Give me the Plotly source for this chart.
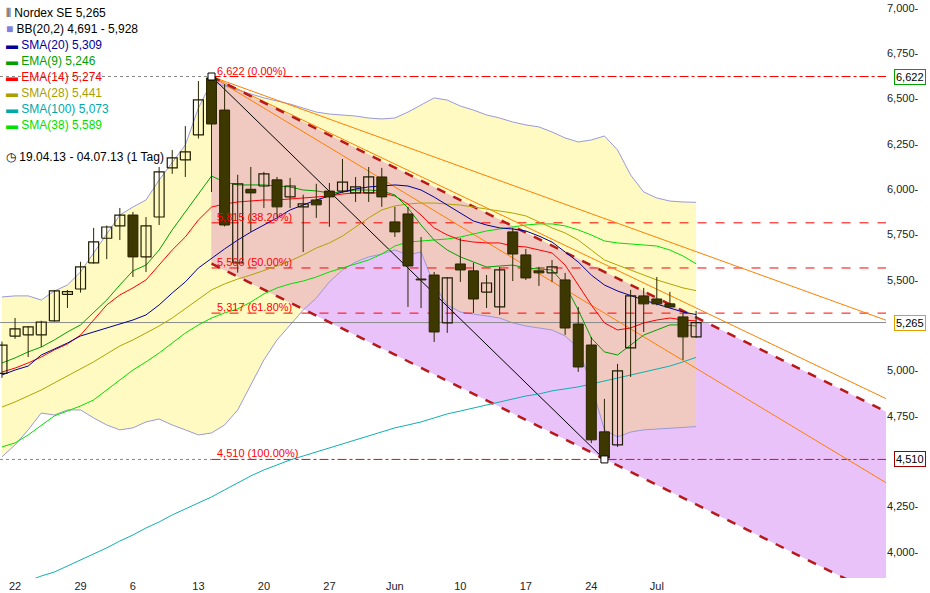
import plotly.graph_objects as go

# ---- data ----
idx = list(range(54))
opens  = [4985,5190,5197,5197,5274,5420,5450,5594,5730,5798,5858,5627,5847,6118,6162,6300,6614,6437,5594,6000,
          6018,6052,5958,5903,5941,5990,5990,5980,5980,6068,5820,5864,5505,5527,5263,5588,5550,5433,5351,5765,
          5638,5550,5539,5500,5257,5141,4662,4590,5125,5412,5395,5368,5296,5186]
highs  = [5160,5290,5245,5275,5445,5445,5600,5787,5800,5897,5875,5847,6123,6217,6349,6597,6622,6580,6080,6123,
          6096,6068,6063,5970,6030,6035,6167,6068,6123,6118,5903,5903,5737,5544,5516,5731,5594,5527,5572,5787,
          5671,5572,5610,5539,5351,5185,4844,5037,5445,5456,5516,5434,5318,5329]
lows   = [4960,5175,5075,5130,5270,5345,5430,5590,5615,5720,5516,5544,5803,6085,6068,6280,5985,5795,5540,5765,
          5897,5847,5897,5654,5842,5793,5980,5930,5930,5903,5737,5351,5345,5158,5208,5489,5318,5345,5307,5494,
          5500,5467,5489,5197,4993,4600,4510,4579,4965,5213,5360,5345,5059,5180]
closes = [5140,5230,5241,5268,5440,5435,5572,5710,5792,5858,5627,5798,6096,6173,6206,6493,6360,5803,6030,5980,
          6085,5903,6018,5920,5914,5958,6040,6013,6068,5958,5765,5577,5500,5213,5511,5555,5395,5483,5555,5643,
          5511,5539,5572,5235,5020,4618,4518,4998,5412,5368,5368,5351,5186,5265]

bb_upper = [5406,5412,5412,5389,5439,5472,5544,5649,5759,5858,5902,5941,6051,6151,6244,6448,6592,6570,6548,6526,
            6504,6487,6470,6448,6426,6415,6410,6404,6393,6388,6393,6426,6465,6504,6492,6459,6437,6410,6393,6371,
            6355,6344,6316,6283,6261,6272,6294,6217,6079,5985,5952,5935,5930,5928]
bb_lower = [4524,4590,4673,4766,4755,4783,4783,4739,4700,4673,4684,4717,4733,4700,4673,4645,4656,4700,4783,4921,
            5059,5169,5252,5334,5400,5489,5555,5599,5627,5643,5665,5638,5654,5472,5362,5323,5312,5301,5290,5263,
            5246,5235,5224,5191,5125,4921,4673,4634,4661,4673,4678,4684,4688,4691]
sma20 = [4976,5003,5025,5086,5119,5152,5191,5213,5235,5257,5279,5307,5362,5428,5489,5566,5621,5671,5720,5764,
         5803,5842,5886,5913,5941,5963,5985,6002,6013,6018,6024,6018,5996,5957,5913,5869,5825,5803,5787,5781,
         5770,5742,5709,5654,5599,5527,5472,5439,5412,5389,5367,5345,5323,5309]
ema9 = [5042,5070,5103,5130,5169,5213,5252,5318,5389,5472,5550,5582,5665,5776,5875,5969,6073,6040,6024,6024,
        6024,6018,6013,5996,5991,5980,5985,5996,5996,5991,5969,5897,5803,5720,5665,5627,5599,5571,5577,5582,
        5566,5560,5555,5472,5334,5180,5103,5086,5141,5196,5224,5252,5252,5246]
ema14 = [4992,5014,5042,5075,5114,5147,5196,5279,5362,5417,5456,5500,5582,5665,5737,5831,5902,5919,5930,5935,
         5941,5941,5946,5952,5957,5963,5974,5980,5980,5980,5963,5919,5858,5787,5748,5720,5709,5704,5704,5687,
         5682,5665,5649,5582,5472,5362,5263,5224,5235,5263,5279,5290,5279,5274]
sma28 = [4799,4827,4860,4893,4932,4970,5009,5048,5092,5136,5169,5207,5246,5290,5340,5395,5445,5478,5505,5527,
         5550,5577,5605,5638,5676,5704,5742,5792,5842,5886,5908,5919,5924,5924,5919,5913,5902,5891,5880,5869,
         5853,5820,5787,5759,5720,5665,5610,5582,5555,5527,5500,5478,5456,5441]
sma38 = [4579,4601,4645,4700,4750,4777,4805,4838,4893,4948,5003,5048,5097,5152,5207,5252,5290,5318,5340,5378,
         5423,5456,5478,5494,5516,5544,5566,5588,5610,5643,5687,5709,5715,5720,5726,5737,5754,5770,5781,5792,
         5803,5809,5809,5798,5776,5748,5715,5704,5698,5693,5687,5665,5632,5589]
sma100 = [3790,3818,3840,3867,3889,3922,3956,3989,4022,4060,4093,4132,4165,4204,4237,4270,4303,4342,4380,4419,
          4452,4480,4507,4529,4551,4573,4595,4617,4639,4661,4684,4700,4717,4739,4761,4777,4794,4810,4827,4843,
          4860,4871,4888,4899,4910,4926,4943,4959,4976,4992,5009,5025,5048,5073]

tick_idx = [1, 6, 10, 15, 20, 25, 30, 35, 40, 45, 50]
tick_lbl = ["22", "29", "6", "13", "20", "27", "Jun", "10", "17", "24", "Jul"]
y_ticks = [4000, 4250, 4750, 5000, 5500, 5750, 6000, 6250, 6500, 6750, 7000]

high_idx, high_val = 16, 6622
low_idx, low_val = 46, 4510
last_price = 5265
fib_levels = [6622, 5815, 5566, 5317, 4510]
fib_labels = ["6,622 (0.00%)", "5,815 (38.20%)", "5,566 (50.00%)", "5,317 (61.80%)", "4,510 (100.00%)"]
chan_slope = -35.9          # per day
chan_upper0, chan_lower0 = 6622, 5590
fan_slopes = [-26.1, -34.5, -43.5]

X0, X1 = -0.15, 67.5
Y0, Y1 = 3856, 7044
HW = 0.38  # half body width in days

fig = go.Figure()

def path(xs, ys):
    return "M " + " L ".join(f"{x},{y}" for x, y in zip(xs, ys)) + " Z"

def cu(x): return chan_upper0 + chan_slope * (x - high_idx)
def cl(x): return chan_lower0 + chan_slope * (x - high_idx)

fig.add_shape(type="path", path=path(idx + idx[::-1], bb_upper + bb_lower[::-1]),
              fillcolor="#fffac2", line=dict(width=0), layer="below")
fig.add_shape(type="path", path=path([high_idx, X1, X1, high_idx], [cu(high_idx), cu(X1), cl(X1), cl(high_idx)]),
              fillcolor="#eac2fa", line=dict(width=0), layer="below")
xs = idx[high_idx:]
tops = [min(bb_upper[i], cu(i)) for i in xs]
bots = [max(bb_lower[i], cl(i)) for i in xs]
fig.add_shape(type="path", path=path(xs + xs[::-1], tops + bots[::-1]),
              fillcolor="#f0c9c0", line=dict(width=0), layer="below")

fig.add_trace(go.Scatter(x=idx, y=bb_upper, mode="lines", line=dict(color="#9a9ad8", width=1)))
fig.add_trace(go.Scatter(x=idx, y=bb_lower, mode="lines", line=dict(color="#9a9ad8", width=1)))

fig.add_trace(go.Scatter(x=[X0, X1], y=[last_price] * 2, mode="lines", line=dict(color="#8c8c8c", width=1)))

for lv, lb in zip(fib_levels, fib_labels):
    dash = "dashdot" if lv in (high_val, low_val) else "dash"
    fig.add_trace(go.Scatter(x=[high_idx, X1], y=[lv, lv], mode="lines",
                             line=dict(color="#ff0000", width=1, dash=dash)))
    fig.add_annotation(x=high_idx + 0.3, y=lv, text=lb, showarrow=False, xanchor="left", yanchor="bottom",
                       font=dict(color="#ff0000", size=11), yshift=-2)
for lv in (high_val, low_val):
    fig.add_trace(go.Scatter(x=[X0, high_idx], y=[lv, lv], mode="lines",
                             line=dict(color="#888888", width=1, dash="dot")))

for s in fan_slopes:
    fig.add_trace(go.Scatter(x=[high_idx, X1], y=[high_val, high_val + s * (X1 - high_idx)], mode="lines",
                             line=dict(color="#ff8000", width=1)))
for f in (cu, cl):
    fig.add_trace(go.Scatter(x=[high_idx, X1], y=[f(high_idx), f(X1)], mode="lines",
                             line=dict(color="#b81818", width=2.5, dash="dash")))
fig.add_trace(go.Scatter(x=[high_idx, low_idx], y=[high_val, low_val], mode="lines",
                         line=dict(color="#000000", width=1)))

for ser, col in [(sma100, "#10b0b0"), (sma38, "#00e000"), (sma28, "#b0a400"),
                 (ema14, "#ff0000"), (ema9, "#00a000"), (sma20, "#000099")]:
    fig.add_trace(go.Scatter(x=idx, y=ser, mode="lines", line=dict(color=col, width=1)))

wx, wy = [], []
ux, uy, dx, dy = [], [], [], []
for i, o, h, l, c in zip(idx, opens, highs, lows, closes):
    wx += [i, i, None]; wy += [l, h, None]
    bx = [i - HW, i + HW, i + HW, i - HW, i - HW, None]
    by = [o, o, c, c, o, None]
    if c >= o:
        ux += bx; uy += by
    else:
        dx += bx; dy += by
fig.add_trace(go.Scatter(x=wx, y=wy, mode="lines", line=dict(color="#2a2600", width=1)))
fig.add_trace(go.Scatter(x=dx, y=dy, mode="lines", fill="toself", fillcolor="#3d3700",
                         line=dict(color="#2a2600", width=1)))
fig.add_trace(go.Scatter(x=ux, y=uy, mode="lines", fill="toself", fillcolor="rgba(255,255,255,0)",
                         line=dict(color="#1e1c00", width=1.2)))
fig.add_trace(go.Scatter(x=[high_idx, low_idx], y=[high_val, low_val], mode="markers",
                         marker=dict(symbol="square", size=7, color="white", line=dict(color="black", width=1))))

PW, PH = 886, 578
def px(x): return x / PW
def py(y): return 1 - y / PH
leg = [("<span style='color:#333'>⫴</span> Nordex SE 5,265", "#000000", 13),
       ("<span style='color:#8080e0'>■</span> BB(20,2) 4,691 - 5,928", "#000000", 29),
       ("<span style='color:#000099'>▬</span> SMA(20) 5,309", "#000099", 45),
       ("<span style='color:#00a000'>▬</span> EMA(9) 5,246", "#00a000", 61),
       ("<span style='color:#ff0000'>▬</span> EMA(14) 5,274", "#ff0000", 77),
       ("<span style='color:#a8a000'>▬</span> SMA(28) 5,441", "#a8a000", 93),
       ("<span style='color:#00a8a8'>▬</span> SMA(100) 5,073", "#00a8a8", 109),
       ("<span style='color:#00e000'>▬</span> SMA(38) 5,589", "#00e000", 125),
       ("◷ 19.04.13 - 04.07.13 (1 Tag)", "#000000", 157)]
for t, c, y in leg:
    fig.add_annotation(xref="paper", yref="paper", x=px(4), y=py(y), text=t, showarrow=False,
                       xanchor="left", yanchor="middle", font=dict(color=c, size=12))

for val, col in [(high_val, "#00a000"), (last_price, "#e0a000"), (low_val, "#a00000")]:
    fig.add_annotation(xref="paper", yref="y", x=1, y=val, text=f"{val:,}", showarrow=False,
                       xanchor="left", xshift=8, font=dict(size=11, color="#000"),
                       bordercolor=col, borderwidth=1, bgcolor="white", borderpad=1)

fig.update_layout(
    width=930, height=593, margin=dict(l=0, r=44, t=0, b=15),
    plot_bgcolor="white", paper_bgcolor="white", showlegend=False,
    font=dict(family="Liberation Sans, Arial", size=11, color="#222"),
    hovermode=False,
    xaxis=dict(range=[X0, X1], tickvals=tick_idx, ticktext=tick_lbl, showgrid=False, zeroline=False,
               ticks="", tickfont=dict(size=11)),
    yaxis=dict(range=[Y0, Y1], side="right", tickvals=y_ticks, ticktext=[f"{v:,}-" for v in y_ticks],
               showgrid=False, zeroline=False, ticks="", tickfont=dict(size=11)),
)
fig.write_html("out.html", config={"displayModeBar": False})
with open("out.html") as fh:
    html = fh.read()
html = html.replace("<body>", "<body style='margin:0'>", 1)
with open("out.html", "w") as fh:
    fh.write(html)
